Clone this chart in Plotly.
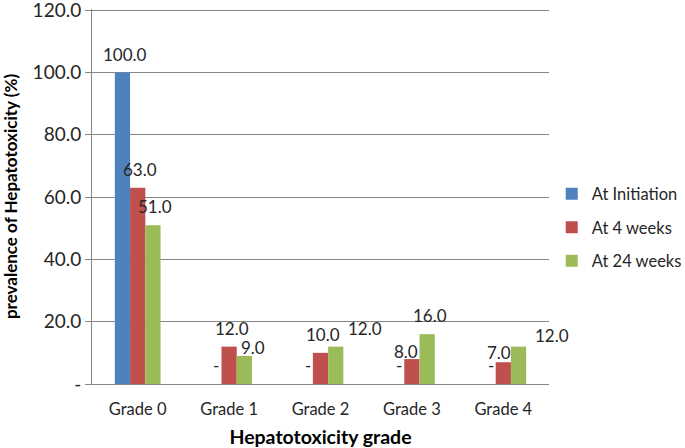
import plotly.graph_objects as go

categories = ["Grade 0", "Grade 1", "Grade 2", "Grade 3", "Grade 4"]
series_names = ["At Initiation", "At 4 weeks", "At 24 weeks"]
at_initiation = [100.0, 0.0, 0.0, 0.0, 0.0]
at_4_weeks = [63.0, 12.0, 10.0, 8.0, 7.0]
at_24_weeks = [51.0, 9.0, 12.0, 16.0, 12.0]
y_tick_values = [0, 20, 40, 60, 80, 100, 120]
y_tick_labels = ["-", "20.0", "40.0", "60.0", "80.0", "100.0", "120.0"]

series_values = [at_initiation, at_4_weeks, at_24_weeks]
colors = ["#4F81BD", "#C0504D", "#9BBB59"]

# label nudges (pixels) for manually moved labels: (series, category) -> (dx, dy)
label_nudges = {
    (2, 1): (9, -8),
    (2, 2): (29, -18),
    (1, 3): (-6, -8),
    (1, 4): (-4, -10),
    (2, 4): (33, -11),
}
default_nudge = (2.5, -18.5)

FONT = "Lato"
TEXT = "#262626"

fig = go.Figure()
for s, (name, vals, col) in enumerate(zip(series_names, series_values, colors)):
    fig.add_trace(go.Bar(
        x=categories, y=vals, name=name, marker=dict(color=col, line=dict(width=0)),
        legendgroup=name,
    ))

bargap = 0.5
bar_w = (1 - bargap) / len(series_names)
for s, vals in enumerate(series_values):
    for i, v in enumerate(vals):
        dx, dy = label_nudges.get((s, i), default_nudge)
        txt = "-" if v == 0 else f"{v:.1f}"
        fig.add_annotation(
            x=i + (s - 1) * bar_w, y=v, xref="x", yref="y",
            text=txt, showarrow=False, xshift=dx, yshift=-dy,
            font=dict(family=FONT, size=17, color=TEXT),
        )

fig.update_layout(
    width=685, height=448,
    margin=dict(l=92, r=136, t=9, b=64, autoexpand=False),
    paper_bgcolor="white", plot_bgcolor="white",
    barmode="group", bargap=bargap, bargroupgap=0,
    font=dict(family=FONT, size=16, color=TEXT),
    legend=dict(x=1.006, y=0.417, xanchor="left", yanchor="middle",
                font=dict(family=FONT, size=16.5, color=TEXT),
                tracegroupgap=9, itemwidth=30),
    xaxis=dict(
        type="category", showgrid=False, showline=True, linecolor="#868686", linewidth=1,
        ticks="outside", ticklen=10, tickcolor="rgba(0,0,0,0)",
        tickfont=dict(family=FONT, size=16.5, color=TEXT),
        title=dict(text="<b>Hepatotoxicity grade</b>", font=dict(family=FONT, size=19.5, color="#000000"), standoff=12),
        range=[-0.5, 4.5], automargin=False,
    ),
    yaxis=dict(
        range=[0, 120.4], tickvals=y_tick_values, ticktext=y_tick_labels,
        showgrid=True, gridcolor="#868686", gridwidth=1,
        showline=True, linecolor="#868686", linewidth=1,
        ticks="outside", ticklen=6, tickcolor="#868686",
        tickfont=dict(family=FONT, size=19, color=TEXT), ticklabeloverflow="allow",
        title=dict(text="<b>prevalence of Hepatotoxicity (%)</b>", font=dict(family=FONT, size=17, color="#000000")),
        zeroline=False, automargin=False,
    ),
)

fig.write_html("out.html", config={"displayModeBar": False},
               post_script="document.body.style.margin='0px';")
